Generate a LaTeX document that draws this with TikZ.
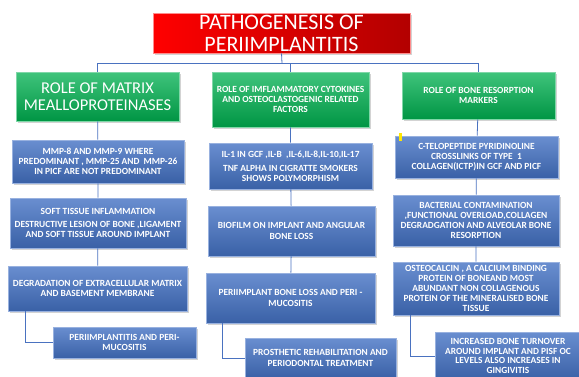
\documentclass[tikz,border=0pt]{standalone}
\usepackage{fontspec}
\setmainfont{Carlito}
\usetikzlibrary{shadows}

\definecolor{boxblue}{HTML}{4472C4}
\definecolor{boxgreen}{HTML}{00B050}
\definecolor{linkblue}{HTML}{4A72C0}

\begin{document}
\begin{tikzpicture}[x=1pt,y=-1pt]
  \tikzset{
    shade box/.style={shade, text=white, align=center, inner sep=1pt,
      drop shadow={shadow xshift=1.5pt, shadow yshift=-1.5pt, opacity=0.35}},
    bluebox/.style={shade box, top color=boxblue!80!white, middle color=boxblue,
      bottom color=boxblue!85!black, draw=boxblue!55!white, line width=0.6pt,
      font=\bfseries\fontsize{9.4}{10.2}\selectfont},
    greenbox/.style={shade box, top color=boxgreen!75!white, middle color=boxgreen,
      bottom color=boxgreen!85!black, draw=boxgreen!50!white, line width=0.6pt,
      font=\bfseries\fontsize{9.4}{10}\selectfont},
    titlebox/.style={shade box, left color=red, right color=red!70!black,
      draw=red!45!white, line width=0.6pt, font=\fontsize{22}{22}\selectfont},
    link/.style={draw=linkblue, line width=0.8pt}
  }
  \useasboundingbox (0,0) rectangle (579,376);
  \clip (0,0) rectangle (579,376);

  % Title
  \node[titlebox, minimum width=257pt, minimum height=40pt] (title) at (281.5,33)
    {PATHOGENESIS OF\\PERIIMPLANTITIS};

  % Three headings
  \node[greenbox, minimum width=163pt, minimum height=49pt,
    font=\fontsize{16.5}{17}\selectfont] (g1) at (97.5,96.5)
    {ROLE OF MATRIX\\MEALLOPROTEINASES};
  \node[greenbox, minimum width=157pt, minimum height=55pt] (g2) at (290.5,99.5)
    {ROLE OF IMFLAMMATORY CYTOKINES\\AND OSTEOCLASTOGENIC RELATED\\FACTORS};
  \node[greenbox, minimum width=153pt, minimum height=47pt] (g3) at (478.5,95.5)
    {ROLE OF BONE RESORPTION\\MARKERS};

  % Left column
  \node[bluebox, minimum width=172pt, minimum height=43pt] (l1) at (98,161.5)
    {MMP-8 AND MMP-9 WHERE\\PREDOMINANT , MMP-25 AND \ MMP-26\\IN PICF ARE NOT PREDOMINANT};
  \node[bluebox, minimum width=176pt, minimum height=50pt] (l2) at (98,223)
    {SOFT TISSUE INFLAMMATION\\[3pt]DESTRUCTIVE LESION OF BONE ,LIGAMENT\\AND SOFT TISSUE AROUND IMPLANT};
  \node[bluebox, minimum width=179pt, minimum height=45pt] (l3) at (97.5,288.5)
    {DEGRADATION OF EXTRACELLULAR MATRIX\\AND BASEMENT MEMBRANE};
  \node[bluebox, minimum width=143pt, minimum height=31pt] (l4) at (124.5,342.5)
    {PERIIMPLANTITIS AND PERI-\\MUCOSITIS};

  % Middle column
  \node[bluebox, minimum width=163pt, minimum height=46pt] (m1) at (290.5,166)
    {IL-1 IN GCF ,IL-B \ ,IL-6,IL-8,IL-10,IL-17\\[4pt]TNF ALPHA IN CIGRATTE SMOKERS\\SHOWS POLYMORPHISM};
  \node[bluebox, minimum width=167pt, minimum height=50pt] (m2) at (291.5,231)
    {BIOFILM ON IMPLANT AND ANGULAR\\BONE LOSS};
  \node[bluebox, minimum width=169pt, minimum height=50pt] (m3) at (290.5,298)
    {PERIIMPLANT BONE LOSS AND PERI -\\MUCOSITIS};
  \node[bluebox, minimum width=151pt, minimum height=40pt] (m4) at (320.5,358)
    {PROSTHETIC REHABILITATION AND\\PERIODONTAL TREATMENT};

  % Right column
  \node[bluebox, minimum width=163pt, minimum height=42pt] (r1) at (476.5,157)
    {C-TELOPEPTIDE PYRIDINOLINE\\CROSSLINKS OF TYPE \ 1\\COLLAGEN(ICTP)IN GCF AND PICF};
  \node[bluebox, minimum width=166pt, minimum height=51pt] (r2) at (476,220.5)
    {BACTERIAL CONTAMINATION\\,FUNCTIONAL OVERLOAD,COLLAGEN\\DEGRADGATION AND ALVEOLAR BONE\\RESORPTION};
  \node[bluebox, minimum width=166pt, minimum height=53pt] (r3) at (476,288.5)
    {OSTEOCALCIN , A CALCIUM BINDING\\PROTEIN OF BONEAND MOST\\ABUNDANT NON COLLAGENOUS\\PROTEIN OF THE MINERALISED BONE\\TISSUE};
  \node[bluebox, minimum width=146pt, minimum height=48pt,
    font=\bfseries\fontsize{9.4}{9.8}\selectfont] (r4) at (508,356)
    {INCREASED BONE TURNOVER\\AROUND IMPLANT AND PISF OC\\LEVELS ALSO INCREASES IN\\GINGIVITIS};

  % small yellow mark on the first marker box
  \fill[yellow!90!orange] (398.5,133) rectangle (402,141);

  % Connectors
  \coordinate (bus) at (282,63);
  \draw[link] (title.south) -- (bus);
  \draw[link] (g1.north) -- (g1.north |- bus) -- (g3.north |- bus) -- (g3.north);
  \draw[link] (g2.north) -- (g2.north |- bus);
  \draw[link] (g1) -- (l1) -- (l2) -- (l3);
  \draw[link] (g2) -- (m1) -- (m2) -- (m3);
  \draw[link] (g3) -- (r1) -- (r2) -- (r3);
  \draw[link] ([xshift=18pt]l3.south west) |- (l4.west);
  \draw[link] ([xshift=17pt]m3.south west) |- (m4.west);
  \draw[link] ([xshift=18pt]r3.south west) |- (r4.west);
\end{tikzpicture}
\end{document}
